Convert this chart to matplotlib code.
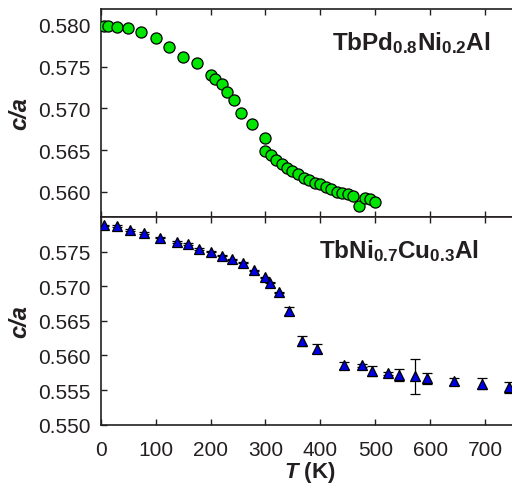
import numpy as np
import matplotlib.pyplot as plt

plt.rcParams['font.family'] = ['Liberation Sans', 'DejaVu Sans']
plt.rcParams['mathtext.fontset'] = 'custom'
plt.rcParams['mathtext.rm'] = 'Liberation Sans'
plt.rcParams['mathtext.bf'] = 'Liberation Sans:bold'
plt.rcParams['mathtext.it'] = 'Liberation Sans:italic'
plt.rcParams['mathtext.bfit'] = 'Liberation Sans:bold:italic'

# TbPd0.8Ni0.2Al
t_pd = [6, 14, 29, 49, 73, 100, 124, 150, 175, 200, 209, 220, 230, 242, 255, 275,
        300, 300, 310, 320, 330, 340, 349, 359, 370, 379, 390, 400, 410, 420, 430,
        440, 450, 460, 470, 481, 490, 500]
ca_pd = [0.5799, 0.5799, 0.5798, 0.5796, 0.5792, 0.5784, 0.5774, 0.5762, 0.5754,
         0.5740, 0.5735, 0.5729, 0.5720, 0.5710, 0.5695, 0.5681, 0.5664, 0.5649,
         0.5644, 0.5638, 0.5634, 0.5629, 0.5625, 0.5621, 0.5617, 0.5614, 0.5611,
         0.5609, 0.5606, 0.5603, 0.5600, 0.5599, 0.5597, 0.5595, 0.5583, 0.5593,
         0.5591, 0.5588]
err_pd = [0.0001] * 16 + [0.0002, 0.0003, 0.0003, 0.0003, 0.0003, 0.0003, 0.0004,
                          0.0003, 0.0003, 0.0003, 0.0005, 0.0003, 0.0003, 0.0003,
                          0.0003, 0.0003, 0.0003, 0.0003, 0.0002, 0.0002, 0.0002, 0.0002]

# TbNi0.7Cu0.3Al
t_cu = [6, 29, 54, 79, 108, 139, 159, 179, 200, 220, 240, 259, 279, 299, 309, 324,
        343, 367, 394, 444, 475, 494, 524, 544, 573, 594, 644, 694, 744]
ca_cu = [0.5788, 0.5787, 0.5781, 0.5777, 0.5770, 0.5764, 0.5761, 0.5754, 0.5750,
         0.5744, 0.5739, 0.5734, 0.5723, 0.5713, 0.5705, 0.5691, 0.5664, 0.5621,
         0.5610, 0.5586, 0.5586, 0.5578, 0.5574, 0.5572, 0.5570, 0.5567, 0.5563,
         0.5559, 0.5554]
err_cu = [0.0001] * 16 + [0.0006, 0.0007, 0.0006, 0.0005, 0.0002, 0.0007, 0.0002,
                          0.0009, 0.0025, 0.0008, 0.0005, 0.0008, 0.0008]

fig = plt.figure(figsize=(5.12, 4.85), dpi=100)
ax1 = fig.add_axes([0.1967, 0.5505, 0.815, 0.4289])
ax2 = fig.add_axes([0.1967, 0.1223, 0.815, 0.4282])

ink = '#231f20'
ax1.errorbar(t_pd, ca_pd, yerr=err_pd, fmt='o', ms=8, mfc='#00e600', mec='black',
             mew=0.9, ecolor='black', elinewidth=0.8, capsize=3, zorder=3)
ax2.errorbar(t_cu, ca_cu, yerr=err_cu, fmt='^', ms=7.5, mfc='#0000e6', mec='black',
             mew=0.9, ecolor='black', elinewidth=0.9, capsize=3.5, zorder=3)

ax1.set_ylim(0.5570, 0.5819)
ax1.set_yticks([0.560, 0.565, 0.570, 0.575, 0.580])
ax2.set_ylim(0.550, 0.580)
ax2.set_yticks([0.550, 0.555, 0.560, 0.565, 0.570, 0.575])

for ax in (ax1, ax2):
    ax.set_xlim(0, 760)
    ax.set_xticks(range(0, 800, 100))
    ax.yaxis.set_major_formatter(plt.FormatStrFormatter('%.3f'))
    ax.tick_params(direction='in', top=True, length=4, width=1, labelsize=15,
                   colors=ink, labelcolor=ink)
    ax.tick_params(axis='y', pad=7)
    ax.tick_params(axis='x', pad=11)
    for s in ax.spines.values():
        s.set_linewidth(1.2)
        s.set_color(ink)
    ax.set_ylabel('c/a', fontsize=17, fontweight='bold', fontstyle='italic',
                  color=ink, labelpad=5)

ax1.tick_params(labelbottom=False)
ax2.set_xlabel(r'$\mathbfit{T}$ (K)', fontsize=16, fontweight='bold', color=ink, labelpad=0)

ax1.text(0.745, 0.84, r'$\mathbf{TbPd_{0.8}Ni_{0.2}Al}$', transform=ax1.transAxes,
         fontsize=17.5, ha='center', va='center', color=ink)
ax2.text(0.715, 0.84, r'$\mathbf{TbNi_{0.7}Cu_{0.3}Al}$', transform=ax2.transAxes,
         fontsize=17.5, ha='center', va='center', color=ink)

fig.savefig('out.png', dpi=100)
